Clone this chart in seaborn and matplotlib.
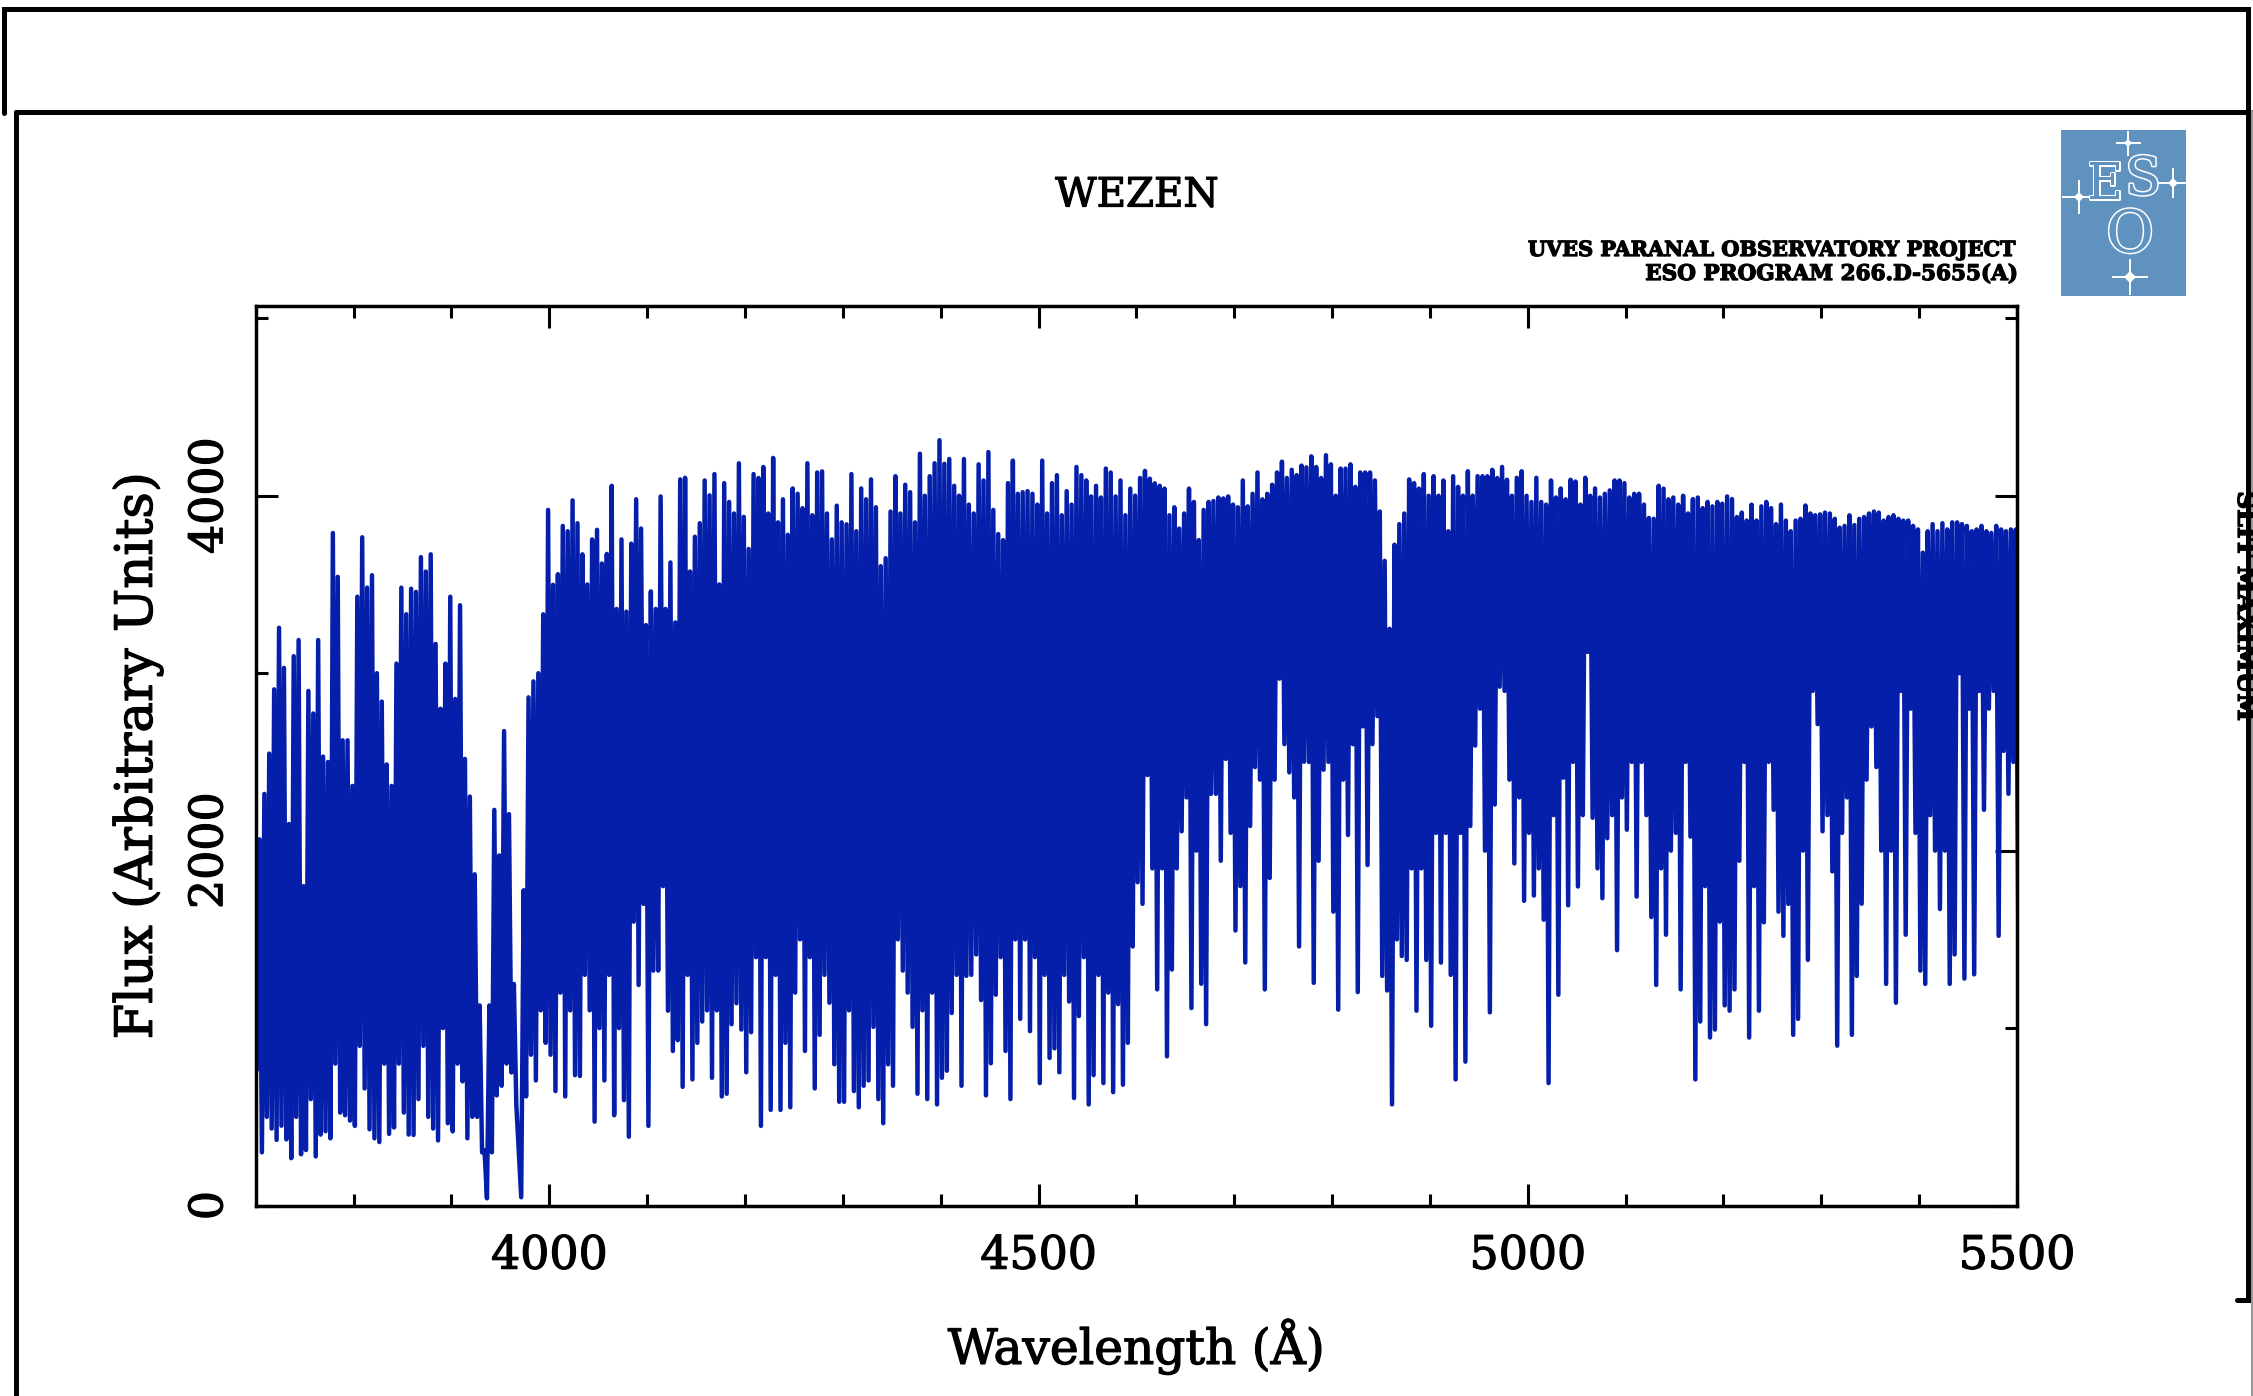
import numpy as np
import pandas as pd
import matplotlib
matplotlib.use("Agg")
import matplotlib.pyplot as plt
import matplotlib.patheffects as pe
from matplotlib.patches import Rectangle
import seaborn as sns

# spectrum, one value every 5 A, one row per 100 A
flux_high = [
    2396, 2064, 2320, 2547, 2909, 3256, 3030, 2150, 3096, 3187, 1800, 2900, 2773, 3187, 2530, 2500, 3790, 3543, 2622, 2622,
    2365, 3431, 3766, 3482, 3552, 3000, 2840, 2486, 2365, 3054, 3482, 3332, 3476, 3458, 3654, 3573, 3670, 3165, 2800, 3054,
    3431, 2855, 3383, 2517, 2305, 1867, 1128, 313, 1128, 2230, 1973, 2674, 2206, 1249, 313, 1777, 2864, 2954, 3000, 3332,
    3920, 3498, 3558, 3830, 3800, 3974, 3845, 3670, 3500, 3754, 3808, 3618, 3672, 4056, 3362, 3754, 3347, 3730, 3980, 3815,
    3271, 3461, 3362, 3996, 3362, 3624, 3286, 4092, 4101, 3573, 3769, 3845, 4086, 4002, 4122, 3500, 4071, 3965, 3900, 4183,
    3881, 3700, 4122, 4100, 4162, 3900, 4213, 3850, 3980, 3780, 4041, 4011, 3930, 4183, 3890, 4131, 4137, 3900, 3754, 3944,
    3850, 3839, 4122, 3800, 4041, 3980, 4092, 3935, 3603, 3648, 3911, 4110, 3900, 4062, 4020, 3850, 4237, 4000, 4110, 4183,
    4313, 4180, 4207, 4056, 4000, 4207, 3950, 3900, 4177, 4086, 4246, 3920, 3784, 3750, 4071, 4198, 4011, 4020, 4026, 4011,
    3950, 4198, 3900, 4071, 4116, 3890, 4026, 3950, 4162, 4116, 4086, 3996, 4056, 3990, 4153, 4131, 3996, 4086, 3890, 4040,
    4000, 4100, 4140, 4096, 4070, 4056, 4040, 3890, 3935, 3815, 3900, 4040, 3965, 3750, 3920, 3965, 3970, 3990, 3985, 3996,
    3950, 3935, 4086, 3940, 4011, 4131, 3980, 4011, 4062, 4131, 4192, 4100, 4146, 4116, 4170, 4160, 4222, 4162, 4100, 4228,
    4177, 4000, 4153, 4153, 4177, 4050, 4131, 4131, 4131, 4086, 3911, 3633, 3250, 3724, 3840, 3900, 4092, 4071, 4040, 4122,
    4000, 4110, 4000, 4086, 3800, 4110, 4050, 4000, 4138, 4000, 4110, 4110, 4110, 4146, 4100, 4162, 4090, 4000, 4101, 4138,
    4000, 3965, 4101, 3965, 3950, 4086, 3990, 4041, 3980, 4090, 4080, 3950, 4101, 4000, 4041, 3990, 4011, 4030, 4086, 4086,
    4071, 3990, 4011, 4011, 3950, 3875, 3870, 4056, 4040, 3980, 3990, 3950, 4000, 3900, 3981, 3990, 3930, 3965, 3940, 3965,
    3955, 3996, 3981, 3880, 3905, 3860, 3950, 3860, 3940, 3965, 3930, 3840, 3950, 3860, 3800, 3860, 3870, 3945, 3900, 3890,
    3895, 3905, 3900, 3870, 3820, 3830, 3890, 3835, 3870, 3880, 3900, 3911, 3905, 3860, 3880, 3890, 3870, 3860, 3860, 3830,
    3810, 3679, 3800, 3840, 3800, 3845, 3810, 3850, 3850, 3840, 3830, 3800, 3810, 3830, 3800, 3790, 3830, 3810, 3800, 3810,
    3810,
]
flux_low = [
    766, 300, 500, 434, 370, 450, 373, 267, 500, 289, 313, 600, 277, 400, 419, 379, 800, 524, 509, 479,
    449, 900, 660, 430, 379, 358, 800, 404, 440, 800, 524, 400, 398, 600, 900, 500, 434, 367, 1000, 464,
    418, 800, 700, 379, 500, 500, 300, 41, 300, 621, 675, 800, 750, 569, 47, 615, 850, 705, 1100, 917,
    850, 645, 1200, 615, 1100, 735, 730, 1300, 1100, 473, 1000, 705, 1300, 509, 1000, 594, 388, 1600, 1243, 1700,
    449, 1324, 1324, 1800, 1098, 871, 932, 669, 1300, 711, 917, 1037, 1100, 720, 1100, 615, 630, 1022, 1140, 992,
    751, 977, 1400, 449, 1400, 539, 1300, 539, 917, 554, 1200, 1500, 871, 1400, 660, 962, 1300, 1143, 796, 585,
    585, 1100, 645, 554, 675, 705, 1007, 600, 464, 796, 675, 1500, 1324, 1200, 1007, 630, 1100, 600, 1200, 570,
    720, 760, 1085, 1300, 675, 1294, 1300, 1415, 1158, 621, 802, 1188, 1400, 871, 600, 1500, 1052, 1500, 983, 1400,
    690, 1300, 832, 886, 751, 1300, 1150, 606, 1068, 1400, 570, 735, 1300, 690, 1200, 639, 1135, 681, 917, 1460,
    1822, 1700, 2426, 1900, 1218, 1900, 841, 1330, 1900, 2109, 2300, 1113, 2000, 1250, 1022, 2320, 2320, 1943, 2517, 2100,
    1550, 1800, 1370, 2139, 2471, 2400, 1218, 1846, 2400, 2969, 2600, 2441, 2300, 1460, 2501, 2500, 1255, 1943, 2456, 2500,
    1656, 1104, 2400, 2088, 2600, 1203, 2700, 1919, 2600, 2758, 1294, 1212, 570, 1500, 1406, 1384, 1900, 1098, 1900, 1384,
    1013, 2100, 1369, 2100, 1300, 711, 2100, 811, 2139, 2592, 2800, 2000, 1089, 2260, 2924, 2900, 2400, 1928, 2300, 1717,
    2100, 1747, 1900, 1611, 690, 2200, 1188, 2411, 1692, 2500, 1798, 2200, 3120, 2185, 1900, 1732, 2070, 2200, 1439, 2300,
    2118, 2500, 1741, 2500, 2200, 1626, 1243, 1900, 1526, 2000, 2100, 1218, 2500, 2079, 711, 1037, 1800, 947, 992, 1600,
    1128, 1098, 1218, 1943, 2500, 947, 1800, 1098, 1596, 2500, 2230, 1656, 1520, 1700, 962, 1052, 2000, 1384, 2900, 2713,
    2109, 2200, 1883, 901, 2100, 2300, 962, 1294, 1701, 2400, 2700, 2471, 2000, 1249, 2000, 1143, 2900, 1526, 2800, 2100,
    1324, 1249, 2200, 2000, 1671, 2000, 1249, 1415, 3000, 1279, 2800, 1303, 2900, 2230, 2800, 2900, 1520, 2562, 2320, 2500,
    1626,
]

x_major = [4000, 4500, 5000, 5500]
x_minor = [3800, 3900, 4100, 4200, 4300, 4400, 4600, 4700, 4800, 4900, 5100, 5200, 5300, 5400]
y_major = [0, 2000, 4000]
y_minor = [1000, 3000, 5000]

BLUE = "#061FAB"
LOGO = "#6092C0"
W, H = 2253, 1396

sns.set_style("ticks", rc={"axes.edgecolor": "black", "axes.labelcolor": "black", "text.color": "black",
                           "xtick.color": "black", "ytick.color": "black"})
plt.rcParams["font.family"] = ["DejaVu Serif", "DejaVu Sans"]

# high and low samples alternate, the solid band comes from that zigzag
grid = 3700 + 5 * np.arange(len(flux_high))
spec = pd.DataFrame({
    "wave": np.column_stack([grid - 1.25, grid + 1.25]).ravel(),
    "flux": np.column_stack([flux_high, flux_low]).ravel(),
})

fig = plt.figure(figsize=(W / 100, H / 100), dpi=100, facecolor="white")
ax = fig.add_axes([255.8 / W, (H - 1205.6) / H, 1761.2 / W, 899.6 / H])

sns.lineplot(data=spec, x="wave", y="flux", sort=False, estimator=None,
             color=BLUE, linewidth=3.2, ax=ax)

ax.set_xlim(3700, 5500)
ax.set_ylim(0, 5069)
ax.set_xticks(x_major)
ax.set_xticks(x_minor, minor=True)
ax.set_yticks(y_major)
ax.set_yticks(y_minor, minor=True)
ax.tick_params(which="major", direction="in", length=16, width=2.2, top=True, right=True, labelsize=33)
ax.tick_params(which="minor", direction="in", length=8.5, width=2.2, top=True, right=True)
ax.tick_params(axis="x", which="major", pad=20)
ax.tick_params(axis="y", which="major", pad=17)
plt.setp(ax.get_yticklabels(), rotation=90, va="center")
for s in ax.spines.values():
    s.set_linewidth(2.5)
    s.set_zorder(5)

ax.set_xlabel("Wavelength (Å)", fontsize=35, labelpad=29)
ax.set_ylabel("Flux (Arbitrary Units)", fontsize=37, labelpad=17)

# the original lettering is heavier than the regular weight
heavy = [pe.withStroke(linewidth=0.9, foreground="black")]
for t in ax.get_xticklabels() + ax.get_yticklabels() + [ax.xaxis.label, ax.yaxis.label]:
    t.set_path_effects(heavy)

# everything outside the plot is placed in picture pixels
ov = fig.add_axes([0, 0, 1, 1], zorder=-1)
ov.set_xlim(0, W)
ov.set_ylim(H, 0)
ov.axis("off")

ov.text(1137, 196, "WEZEN", fontsize=29, ha="center", va="center", path_effects=heavy)
ov.text(2017, 250, "UVES PARANAL OBSERVATORY PROJECT", fontsize=15, fontweight="bold", ha="right", va="center", path_effects=heavy)
ov.text(2017, 274, "ESO PROGRAM 266.D-5655(A)", fontsize=15.5, fontweight="bold", ha="right", va="center", path_effects=heavy)

# scanned page frames
frame_lw = 3.6
ov.plot([3.5, 3.5, 2248, 2248, 2237], [113, 9, 9, 1300, 1300], color="black", lw=frame_lw, solid_joinstyle="miter")
ov.plot([15.5, 15.5], [1396, 111.5], color="black", lw=frame_lw)
ov.plot([15.5, 2253], [111.5, 111.5], color="black", lw=frame_lw)
ov.plot([2252, 2252], [111, 1396], color="#9a9a9a", lw=1.5)

# text cut off by the page edge
cut = ov.text(2245, 606, "SLIT MAXIMUM", fontsize=18, fontweight="bold", rotation=-90, ha="center", va="center", path_effects=heavy)
cut.set_clip_path(Rectangle((2230, 480), 15, 250, transform=ov.transData))

# ESO logo
ov.add_patch(Rectangle((2061, 130), 125, 166, facecolor=LOGO, edgecolor="none"))
outline = [pe.withStroke(linewidth=2.2, foreground="white")]
for txt, lx, ly, size in [("E", 2105, 185, 36), ("S", 2143, 180, 38), ("O", 2130, 236, 42)]:
    ov.text(lx, ly, txt, fontsize=size, color=LOGO, ha="center", va="center", path_effects=outline)
for sx, sy, size in [(2128, 143, 18), (2079, 197, 24), (2173, 183, 22), (2130, 277, 26)]:
    ov.plot([sx], [sy], marker="+", markersize=size, markeredgewidth=1.4, color="white", linestyle="none")
    ov.plot([sx], [sy], marker="D", markersize=size / 4.5, markeredgewidth=0, color="white", linestyle="none")

fig.savefig("out.png", dpi=100, facecolor="white")
